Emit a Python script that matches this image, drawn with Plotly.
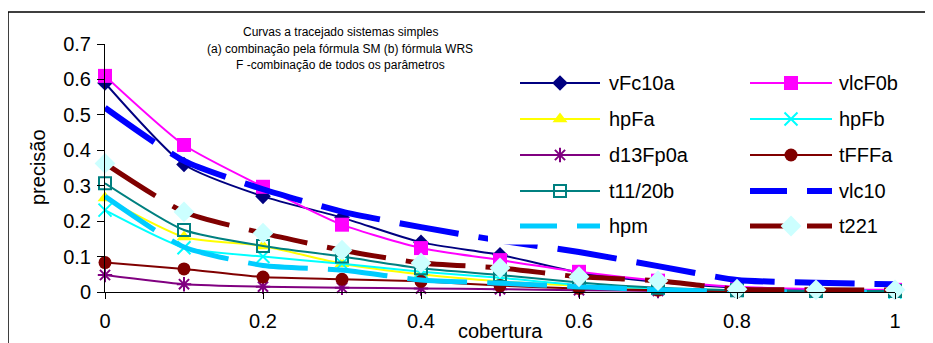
import plotly.graph_objects as go

# ---------------- data ----------------
cobertura = [0, 0.1, 0.2, 0.3, 0.4, 0.5, 0.6, 0.7, 0.8, 0.9, 1.0]

vFc10a = [0.59, 0.36, 0.27, 0.21, 0.14, 0.105, 0.055, 0.028, 0.012, 0.006, 0.004]
vlcF0b = [0.61, 0.415, 0.297, 0.19, 0.124, 0.09, 0.057, 0.032, 0.015, 0.008, 0.006]
hpFa = [0.265, 0.155, 0.13, 0.08, 0.05, 0.03, 0.018, 0.01, 0.005, 0.002, 0.0]
hpFb = [0.231, 0.125, 0.1, 0.08, 0.057, 0.04, 0.02, 0.01, 0.005, 0.002, 0.0]
d13Fp0a = [0.048, 0.022, 0.015, 0.012, 0.01, 0.008, 0.005, 0.003, 0.002, 0.001, 0.0]
tFFFa = [0.083, 0.065, 0.042, 0.036, 0.03, 0.018, 0.01, 0.005, 0.002, 0.001, 0.0]
t11_20b = [0.307, 0.175, 0.13, 0.1, 0.067, 0.048, 0.027, 0.012, 0.005, 0.003, 0.003]
vlc10 = [0.52, 0.37, 0.29, 0.227, 0.183, 0.145, 0.113, 0.073, 0.034, 0.026, 0.022]
hpm = [0.27, 0.127, 0.075, 0.062, 0.034, 0.025, 0.015, 0.006, 0.002, 0.0, 0.0]
t221 = [0.363, 0.226, 0.166, 0.118, 0.082, 0.068, 0.043, 0.032, 0.008, 0.006, 0.006]

series_names = ["vFc10a", "vlcF0b", "hpFa", "hpFb", "d13Fp0a", "tFFFa",
                "t11/20b", "vlc10", "hpm", "t221"]
series_values = [vFc10a, vlcF0b, hpFa, hpFb, d13Fp0a, tFFFa,
                 t11_20b, vlc10, hpm, t221]

title_lines = ["Curvas a tracejado sistemas simples",
               "(a) combinação pela fórmula SM (b) fórmula WRS",
               "F -combinação de todos os parâmetros"]

# ---------------- styles ----------------
FONT = "Arial, Liberation Sans, sans-serif"
styles = [
    dict(color="#000080", width=2, dash="solid", symbol="diamond", size=12, mcolor="#000080", open=False),
    dict(color="#FF00FF", width=2, dash="solid", symbol="square", size=14, mcolor="#FF00FF", open=False),
    dict(color="#FFFF00", width=2, dash="solid", symbol="triangle-up", size=13, mcolor="#FFFF00", open=False),
    dict(color="#00FFFF", width=2, dash="solid", symbol="x-thin-open", size=13, mcolor="#00FFFF", open=True),
    dict(color="#800080", width=2, dash="solid", symbol="asterisk-open", size=12, mcolor="#800080", open=True),
    dict(color="#800000", width=2, dash="solid", symbol="circle", size=13, mcolor="#800000", open=False),
    dict(color="#008080", width=2, dash="solid", symbol="square-open", size=12, mcolor="#008080", open=True),
    dict(color="#0000FF", width=6, dash="60px,20px", symbol=None, size=0, mcolor=None, open=False),
    dict(color="#00CCFF", width=5, dash="60px,20px", symbol=None, size=0, mcolor=None, open=False),
    dict(color="#800000", width=5, dash="60px,20px", symbol="diamond", size=16, mcolor="#CCFFFF", open=False),
]

# page offset (body margin) and figure geometry; helper coords are window pixels
OFF = 8
W, H = 933 - OFF, 343 - OFF
L, R, T, B = 105 - OFF, 38, 44 - OFF, 51
PW, PH = W - L - R, H - T - B


def px(x):
    return (x - OFF - L) / PW


def py(y):
    return (H - B - (y - OFF)) / PH


def marker_dict(s):
    if s["symbol"] is None:
        return None
    if s["open"]:
        return dict(symbol=s["symbol"], size=s["size"], color=s["mcolor"],
                    line=dict(color=s["mcolor"], width=2))
    return dict(symbol=s["symbol"], size=s["size"], color=s["mcolor"],
                line=dict(width=0))


fig = go.Figure()

for name, vals, s in zip(series_names, series_values, styles):
    m = marker_dict(s)
    fig.add_trace(go.Scatter(
        x=cobertura, y=vals, name=name,
        mode="lines+markers" if m else "lines",
        line=dict(color=s["color"], width=s["width"], dash=s["dash"], shape="spline", smoothing=0.6),
        marker=m, cliponaxis=False, showlegend=False, xaxis="x", yaxis="y",
    ))

# ---------------- custom legend (overlay axes in window-pixel units) ----------------
box_x = [488, 940, 940, 488, 488]
box_y = [62, 62, 244.5, 244.5, 62]
fig.add_trace(go.Scatter(x=box_x, y=box_y, fill="toself", fillcolor="white",
                         mode="lines", line=dict(width=0), hoverinfo="skip",
                         showlegend=False, xaxis="x2", yaxis="y2"))

col_lines = [(520, 600, 560, 607), (750, 832, 791, 837)]
row_y = [83, 119, 155, 191, 226]
annotations = []
for i, (name, s) in enumerate(zip(series_names, styles)):
    col = i % 2
    row = i // 2
    x0, x1, xm, xt = col_lines[col]
    yy = row_y[row]
    dash = s["dash"] if s["dash"] == "solid" else "37px,20px"
    fig.add_trace(go.Scatter(x=[x0, x1], y=[yy, yy], mode="lines",
                             line=dict(color=s["color"], width=s["width"], dash=dash),
                             hoverinfo="skip", showlegend=False, xaxis="x2", yaxis="y2"))
    m = marker_dict(s)
    if m:
        fig.add_trace(go.Scatter(x=[xm], y=[yy], mode="markers", marker=m,
                                 hoverinfo="skip", showlegend=False, cliponaxis=False,
                                 xaxis="x2", yaxis="y2"))
    annotations.append(dict(x=px(xt), y=py(yy), xref="paper", yref="paper",
                            text=name, showarrow=False, xanchor="left", yanchor="middle",
                            font=dict(family=FONT, size=20, color="black")))

for txt, yy in zip(title_lines, [32, 49, 65]):
    annotations.append(dict(x=px(340), y=py(yy), xref="paper", yref="paper",
                            text=txt, showarrow=False, xanchor="center", yanchor="middle",
                            font=dict(family=FONT, size=12, color="black")))

annotations.append(dict(x=px(38), y=py(167), xref="paper", yref="paper",
                        text="precisão", showarrow=False, textangle=-90,
                        xanchor="center", yanchor="middle",
                        font=dict(family=FONT, size=20, color="black")))
annotations.append(dict(x=px(500), y=py(331), xref="paper", yref="paper",
                        text="cobertura", showarrow=False,
                        xanchor="center", yanchor="middle",
                        font=dict(family=FONT, size=20, color="black")))

shapes = [dict(type="rect", xref="paper", yref="paper",
               x0=px(8), x1=px(960), y0=py(12), y1=py(370),
               line=dict(color="black", width=1.5), fillcolor="rgba(0,0,0,0)",
               layer="below")]

fig.update_layout(
    width=W, height=H,
    margin=dict(l=L, r=R, t=T, b=B, pad=0, autoexpand=False),
    paper_bgcolor="white", plot_bgcolor="white",
    showlegend=False,
    font=dict(family=FONT, color="black"),
    xaxis=dict(range=[0, 1], dtick=0.2, tick0=0, showgrid=False, zeroline=False,
               showline=True, linecolor="black", linewidth=1, automargin=False,
               ticks="outside", ticklen=6, tickcolor="black", tickwidth=1,
               tickfont=dict(family=FONT, size=20, color="black"),
               ticklabelstandoff=5),
    yaxis=dict(range=[0, 0.7], dtick=0.1, tick0=0, showgrid=False, zeroline=False,
               showline=True, linecolor="black", linewidth=1, automargin=False,
               ticks="outside", ticklen=7, tickcolor="black", tickwidth=1,
               tickfont=dict(family=FONT, size=20, color="black"),
               ticklabelstandoff=2),
    xaxis2=dict(overlaying="x", range=[L + OFF, W + OFF - R], visible=False,
                fixedrange=True, automargin=False),
    yaxis2=dict(overlaying="y", range=[H + OFF - B, T + OFF], visible=False,
                fixedrange=True, automargin=False),
    annotations=annotations,
    shapes=shapes,
)

fig.write_html("out.html")
